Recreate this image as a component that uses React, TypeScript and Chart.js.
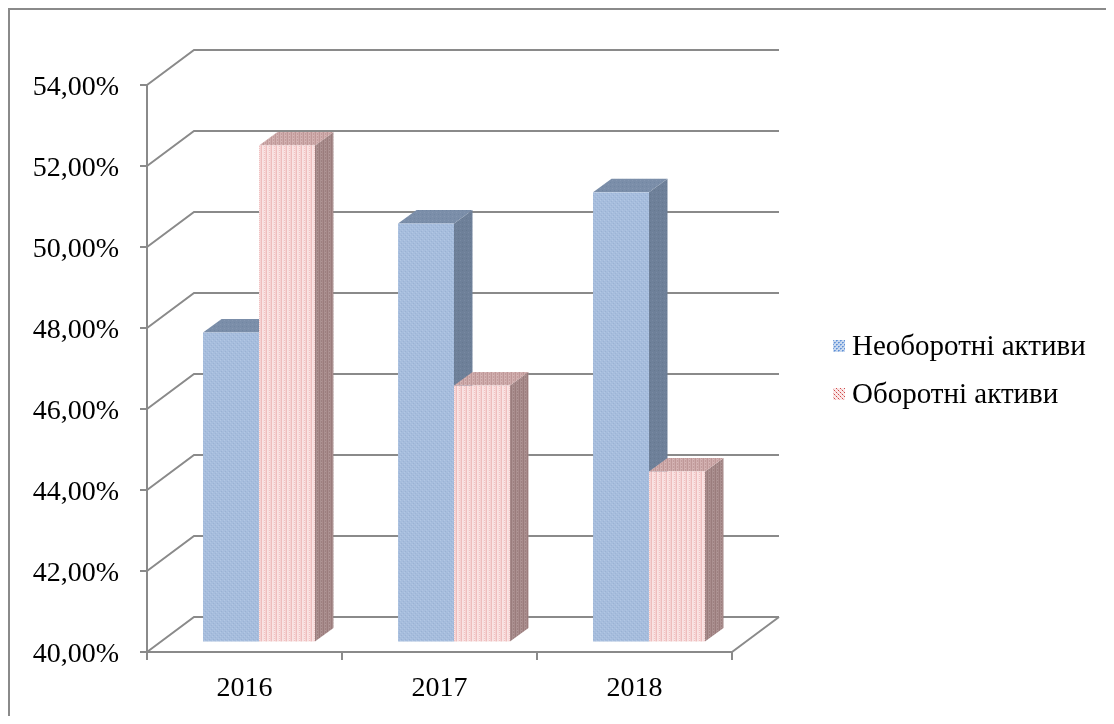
import React, { useEffect, useRef } from 'react';
import { Chart, registerables } from 'chart.js';
Chart.register(...registerables);

const categories = ['2016', '2017', '2018'];
const seriesNames = ['Необоротні активи', 'Оборотні активи'];
const nonCurrentAssets = [47.63, 50.32, 51.09];
const currentAssets = [52.25, 46.32, 44.2];
const yMin = 40;
const yMax = 54;
const yStep = 2;

const FONT = '"Liberation Serif", "Times New Roman", serif';
const GRID = '#8a8a8a';
const FRONT = { x: 14.5, y: -10.5 };
const DEPTH = { x: 18.5, y: -13.5 };
const WALL = { x: 47, y: -35 };

function makePattern(ctx: CanvasRenderingContext2D, w: number, h: number, base: string, pix: [number, number, string][]) {
  const c = document.createElement('canvas');
  c.width = w;
  c.height = h;
  const g = c.getContext('2d')!;
  g.fillStyle = base;
  g.fillRect(0, 0, w, h);
  pix.forEach(([x, y, col]) => {
    g.fillStyle = col;
    g.fillRect(x, y, 1, 1);
  });
  return ctx.createPattern(c, 'repeat')!;
}

function stripes(ctx: CanvasRenderingContext2D, cols: string[], h: number, dot: string) {
  const c = document.createElement('canvas');
  c.width = cols.length;
  c.height = h;
  const g = c.getContext('2d')!;
  cols.forEach((col, i) => {
    g.fillStyle = col;
    g.fillRect(i, 0, 1, h);
  });
  g.fillStyle = dot;
  g.fillRect(1, 1, 1, 1);
  return ctx.createPattern(c, 'repeat')!;
}

export default function App() {
  const ref = useRef<HTMLCanvasElement>(null);
  useEffect(() => {
    const canvas = ref.current!;
    const ctx0 = canvas.getContext('2d')!;
    const faces = [
      {
        front: makePattern(ctx0, 4, 4, '#a6bddd', [[0, 0, '#b3c7e4'], [2, 2, '#b0c4e2'], [1, 3, '#9ab1d3'], [3, 1, '#9cb3d5']]),
        top: makePattern(ctx0, 4, 4, '#7b8ea9', [[0, 0, '#8597b1'], [2, 2, '#7186a2']]),
        side: makePattern(ctx0, 4, 4, '#6e8099', [[0, 0, '#7889a1'], [2, 2, '#66788f']]),
      },
      {
        front: stripes(ctx0, ['#f8dede', '#f0c2c2', '#f5d2d2', '#eebdbd', '#f9e4e4'], 2, '#fae6e6'),
        top: stripes(ctx0, ['#d2b0b0', '#c29c9c', '#cdaaaa', '#bf9898'], 3, '#d6b6b6'),
        side: stripes(ctx0, ['#ab9090', '#9d8080', '#a88b8b', '#9a7c7c'], 3, '#b09696'),
      },
    ];
    const legendMarks = [
      makePattern(ctx0, 4, 4, '#c9d9ef', [[0, 0, '#5e8fd6'], [1, 0, '#7aa3dd'], [2, 2, '#5e8fd6'], [3, 2, '#7aa3dd'], [0, 1, '#9bbae6'], [2, 3, '#9bbae6']]),
      makePattern(ctx0, 4, 4, '#fbe9e9', [[0, 0, '#d04848'], [2, 2, '#d04848'], [1, 1, '#eab0b0'], [3, 3, '#eab0b0']]),
    ];

    const threeD = {
      id: 'threeD',
      beforeDraw(chart: any) {
        const ctx = chart.ctx;
        ctx.save();
        ctx.strokeStyle = GRID;
        ctx.lineWidth = 2;
        ctx.beginPath();
        ctx.moveTo(1, chart.height);
        ctx.lineTo(1, 1);
        ctx.lineTo(chart.width, 1);
        ctx.stroke();
        ctx.restore();
      },
      beforeDatasetsDraw(chart: any) {
        const ctx = chart.ctx;
        const { left, right, bottom } = chart.chartArea;
        const y = chart.scales.y;
        ctx.save();
        ctx.strokeStyle = GRID;
        ctx.lineWidth = 2;
        for (let v = yMin; v <= yMax; v += yStep) {
          const py = y.getPixelForValue(v);
          ctx.beginPath();
          ctx.moveTo(left, py);
          ctx.lineTo(left + WALL.x, py + WALL.y);
          ctx.lineTo(right + WALL.x, py + WALL.y);
          ctx.stroke();
        }
        ctx.beginPath();
        ctx.moveTo(right, bottom);
        ctx.lineTo(right + WALL.x, bottom + WALL.y);
        ctx.stroke();
        ctx.restore();
      },
      afterDatasetsDraw(chart: any) {
        const ctx = chart.ctx;
        const floor = chart.scales.y.getPixelForValue(yMin);
        ctx.save();
        const metas = chart.data.datasets.map((_: any, i: number) => chart.getDatasetMeta(i));
        for (let c = 0; c < categories.length; c++) {
          metas.forEach((meta: any, d: number) => {
            const el = meta.data[c];
            const p = el.getProps(['x', 'y', 'base', 'width'], true);
            const L = p.x - p.width / 2 + FRONT.x;
            const R = p.x + p.width / 2 + FRONT.x;
            const T = p.y + FRONT.y;
            const B = Math.min(p.base, floor) + FRONT.y;
            const f = faces[d];
            ctx.fillStyle = f.side;
            ctx.beginPath();
            ctx.moveTo(R, T);
            ctx.lineTo(R + DEPTH.x, T + DEPTH.y);
            ctx.lineTo(R + DEPTH.x, B + DEPTH.y);
            ctx.lineTo(R, B);
            ctx.closePath();
            ctx.fill();
            ctx.fillStyle = f.top;
            ctx.beginPath();
            ctx.moveTo(L, T);
            ctx.lineTo(L + DEPTH.x, T + DEPTH.y);
            ctx.lineTo(R + DEPTH.x, T + DEPTH.y);
            ctx.lineTo(R, T);
            ctx.closePath();
            ctx.fill();
            ctx.fillStyle = f.front;
            ctx.fillRect(L, T, R - L, B - T);
          });
        }
        ctx.restore();
      },
      afterDraw(chart: any) {
        const ctx = chart.ctx;
        ctx.save();
        ctx.font = '29px ' + FONT;
        ctx.textBaseline = 'middle';
        ctx.fillStyle = '#000';
        seriesNames.forEach((name, i) => {
          const cy = 338 + i * 48;
          ctx.fillStyle = legendMarks[i];
          ctx.fillRect(825, cy - 6, 12, 12);
          ctx.fillStyle = '#000';
          ctx.fillText(name, 844, cy + 1);
        });
        ctx.restore();
      },
    };

    const chart = new Chart(canvas, {
      type: 'bar',
      data: {
        labels: categories,
        datasets: [
          { label: seriesNames[0], data: nonCurrentAssets, backgroundColor: 'rgba(0,0,0,0)', borderWidth: 0, barPercentage: 1, categoryPercentage: 0.574 },
          { label: seriesNames[1], data: currentAssets, backgroundColor: 'rgba(0,0,0,0)', borderWidth: 0, barPercentage: 1, categoryPercentage: 0.574 },
        ],
      },
      options: {
        responsive: false,
        animation: false,
        devicePixelRatio: 1,
        layout: { padding: { left: 0, top: 77, right: 374, bottom: 0 } },
        plugins: { legend: { display: false }, tooltip: { enabled: false } },
        scales: {
          x: {
            afterFit: (s: any) => { s.height = 64; },
            border: { display: true, color: GRID, width: 2 },
            grid: { display: true, drawOnChartArea: false, drawTicks: true, tickLength: 8, color: GRID, lineWidth: 2 },
            ticks: { color: '#000', padding: 12, font: { family: FONT, size: 28 } },
          },
          y: {
            min: yMin,
            max: yMax,
            afterFit: (s: any) => { s.width = 139; },
            border: { display: true, color: GRID, width: 2 },
            grid: { display: true, drawOnChartArea: false, drawTicks: true, tickLength: 7, color: GRID, lineWidth: 2 },
            ticks: {
              stepSize: yStep,
              color: '#000',
              padding: 21,
              labelOffset: 3,
              font: { family: FONT, size: 28 },
              callback: (v: any) => Number(v).toFixed(2).replace('.', ',') + '%',
            },
          },
        },
      },
      plugins: [threeD],
    } as any);
    return () => chart.destroy();
  }, []);
  return (
    <div style={{ width: 1098, height: 708 }}>
      <canvas ref={ref} width={1098} height={708} style={{ display: 'block' }} />
    </div>
  );
}
